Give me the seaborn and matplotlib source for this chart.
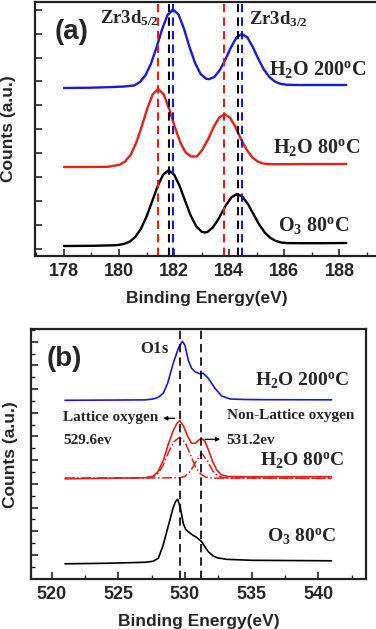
import numpy as np
import pandas as pd
import matplotlib
matplotlib.use("Agg")
import matplotlib.pyplot as plt
from matplotlib.ticker import MultipleLocator, FixedLocator
import seaborn as sns

# ---------------- panel (a): Zr3d ----------------
zr_blue_e = [178.0, 179.0, 179.8, 180.2, 180.56, 180.76, 180.96, 181.16, 181.36, 181.56, 181.76, 181.96,
             182.16, 182.36, 182.56, 182.76, 182.96, 183.16, 183.26, 183.46, 183.66, 183.86, 184.06, 184.26,
             184.46, 184.66, 184.86, 185.06, 185.26, 185.46, 185.66, 185.86, 186.06, 186.5, 187.2, 188.25]
zr_blue_i = [168, 168.3, 169, 169.5, 170.6, 174, 180.7, 192.4, 208.6, 226.5, 241, 246.5,
             241.5, 227, 208.8, 193, 182, 177.3, 176.8, 179, 186, 196.5, 208.5, 218.5,
             222, 218.5, 208.7, 196.9, 186.4, 178.9, 174.4, 172.2, 171.3, 171, 171, 171]

zr_red_e = [178.0, 179.0, 179.6, 180.02, 180.22, 180.42, 180.62, 180.82, 181.02, 181.22, 181.42, 181.62,
            181.82, 182.02, 182.22, 182.42, 182.62, 182.82, 183.02, 183.23, 183.43, 183.63, 183.83, 184.03,
            184.23, 184.43, 184.63, 184.83, 185.03, 185.23, 185.43, 186.0, 187.0, 188.25]
zr_red_i = [89, 89, 89.2, 91.2, 94.5, 101.2, 113, 129.1, 147, 161.5, 167, 161.7,
            147.3, 129.4, 113.7, 103.5, 99.5, 99.5, 106, 116.5, 128.7, 138.3, 142, 138.3,
            128.7, 116.7, 106.5, 98.8, 94.5, 92.5, 91.8, 91.8, 92, 92]

zr_black_e = [178.0, 179.0, 179.8, 180.0, 180.2, 180.4, 180.6, 180.8, 181.0, 181.2, 181.4, 181.6,
              181.8, 182.0, 182.2, 182.4, 182.6, 182.8, 183.0, 183.1, 183.2, 183.4, 183.6, 183.89,
              184.09, 184.29, 184.49, 184.69, 184.89, 185.09, 185.29, 185.49, 185.69, 185.89, 186.1,
              186.6, 187.4, 188.25]
zr_black_i = [10, 10.2, 10.7, 11.1, 12.2, 14.6, 19.4, 27.5, 39.5, 54.5, 69.7, 81.3,
              85.7, 81.4, 70, 55, 40.5, 29.8, 24.2, 23.6, 23.9, 28.4, 36.6, 51.2,
              59, 62, 59, 51.4, 41.3, 31.3, 23.5, 18.2, 15, 13.5, 12.9,
              12.8, 12.8, 13]

zr_red_lines = [181.42, 183.81]
zr_black_lines = [181.82, 184.31]
zr_blue_lines = [181.96, 184.46]

# ---------------- panel (b): O1s ----------------
o_blue_e = [521.0, 524.0, 527.0, 527.6, 528.0, 528.37, 528.7, 529.12, 529.5, 529.8, 530.0, 530.25,
            530.5, 530.75, 531.12, 531.37, 531.75, 532.25, 532.75, 533.4, 534.5, 536.0, 541.0]
o_blue_i = [179.0, 179.2, 179.4, 180.3, 182, 186, 196, 216, 231, 238, 234, 219,
            211, 207.6, 205.5, 206, 201, 191, 183.3, 180.3, 179.8, 179.6, 179.5]

o_red_e = [521.0, 524.0, 527.0, 527.6, 528.0, 528.4, 528.75, 529.1, 529.4, 529.62, 529.9, 530.2,
           530.5, 530.8, 531.05, 531.25, 531.5, 531.8, 532.1, 532.4, 532.75, 533.2, 534.5, 541.0]
o_red_i = [100.5, 101, 101.5, 103, 108, 120, 135, 148, 156, 158.7, 153, 143,
           136, 136, 139.5, 141, 138, 128, 117, 109, 104.5, 102.8, 102.6, 102.6]

o_lat_e = [521.0, 527.0, 527.6, 528.0, 528.4, 528.8, 529.2, 529.6, 530.0, 530.4, 530.8, 531.2,
           531.6, 532.2, 541.0]
o_lat_i = [101, 101.3, 102.5, 106, 115, 128, 138, 142, 137, 125, 112, 105,
           102, 101.2, 101]

o_nonlat_e = [521.0, 529.6, 530.0, 530.4, 530.8, 531.25, 531.7, 532.1, 532.5, 533.0, 541.0]
o_nonlat_i = [101, 101.5, 103, 108, 117, 126, 118, 108, 103, 101.5, 101]

o_black_e = [521.0, 524.0, 527.0, 527.6, 528.0, 528.37, 528.6, 528.87, 529.1, 529.3, 529.45, 529.65,
             529.87, 530.05, 530.25, 530.6, 530.87, 531.25, 531.5, 531.75, 532.1, 532.4, 533.1,
             535.0, 541.0]
o_black_i = [15.5, 16, 17, 18, 21, 34.3, 46, 59.3, 71, 78, 80, 72,
             56, 50, 47.6, 44, 42, 37.6, 32.5, 27.6, 23.5, 21.6, 20,
             19, 18.5]

o_lines = [529.65, 531.2]

BLUE = "#1a1ad6"
RED = "#e3201c"

sns.set_theme(style="ticks")
plt.rcParams['font.family'] = ['Liberation Sans', 'DejaVu Sans']
plt.rcParams['font.weight'] = 'bold'
plt.rcParams['mathtext.fontset'] = 'custom'
plt.rcParams['mathtext.rm'] = 'Liberation Serif'
plt.rcParams['mathtext.bf'] = 'Liberation Serif:bold'
plt.rcParams['mathtext.it'] = 'Liberation Serif:italic:bold'

fig = plt.figure(figsize=(3.76, 6.29), dpi=100)
ax1 = fig.add_axes([35 / 376, 1 - 256 / 629, 343 / 376, 254 / 629])
ax2 = fig.add_axes([31 / 376, 1 - 579.3 / 629, 334.7 / 376, 250 / 629])

# panel (a)
for e, i, c in [(zr_blue_e, zr_blue_i, BLUE), (zr_red_e, zr_red_i, RED), (zr_black_e, zr_black_i, "black")]:
    sns.lineplot(x=e, y=i, ax=ax1, color=c, lw=1.7)
for xs, c in [(zr_red_lines, RED), (zr_black_lines, "black"), (zr_blue_lines, BLUE)]:
    for xv in xs:
        ax1.axvline(xv, color=c, lw=1.5, ls=(0, (4, 2.5)))

ax1.set_xlim(176.95, 189.4)
ax1.set_ylim(0, 254)
ax1.xaxis.set_major_locator(MultipleLocator(2))
ax1.xaxis.set_minor_locator(MultipleLocator(1))
ax1.yaxis.set_major_locator(FixedLocator(7.3 + 23.9 * np.arange(11)))

ax1.text(177.65, 224, "(a)", fontsize=20, fontweight='bold', va='center', ha='left')
ax1.text(179.3, 233, r"$\mathbf{Zr3d_{5/2}}$", fontsize=13.5, ha='left', va='baseline')
ax1.text(184.71, 232, r"$\mathbf{Zr3d_{3/2}}$", fontsize=13.5, ha='left', va='baseline')
ax1.text(185.46, 181, r"$\mathbf{H_2O\ 200^oC}$", fontsize=14.5, ha='left', va='baseline')
ax1.text(185.58, 103, r"$\mathbf{H_2O\ 80^oC}$", fontsize=14.5, ha='left', va='baseline')
ax1.text(185.76, 25, r"$\mathbf{O_3\ 80^oC}$", fontsize=14.5, ha='left', va='baseline')

# panel (b)
for e, i, c in [(o_blue_e, o_blue_i, BLUE), (o_red_e, o_red_i, RED), (o_black_e, o_black_i, "black")]:
    sns.lineplot(x=e, y=i, ax=ax2, color=c, lw=1.2)
for e, i in [(o_lat_e, o_lat_i), (o_nonlat_e, o_nonlat_i)]:
    sns.lineplot(x=e, y=i, ax=ax2, color=RED, lw=1.1, linestyle='-.')
for xv in o_lines:
    ax2.axvline(xv, color="black", lw=1.2, ls=(0, (5, 3)))

ax2.set_xlim(518.45, 543.56)
ax2.set_ylim(0, 250)
ax2.xaxis.set_major_locator(MultipleLocator(5))
ax2.xaxis.set_minor_locator(MultipleLocator(2.5))
ax2.yaxis.set_major_locator(FixedLocator(24.3 + 23.7 * np.arange(10)))
ax2.yaxis.set_minor_locator(FixedLocator(12.45 + 23.7 * np.arange(11)))

ax2.text(519.6, 220, "(b)", fontsize=20, fontweight='bold', va='center', ha='left')
ax2.text(526.6, 226, r"$\mathbf{O1s}$", fontsize=12, ha='left', va='baseline')
ax2.text(535.25, 193, r"$\mathbf{H_2O\ 200^oC}$", fontsize=14, ha='left', va='baseline')
ax2.text(535.63, 113, r"$\mathbf{H_2O\ 80^oC}$", fontsize=14, ha='left', va='baseline')
ax2.text(536.13, 37, r"$\mathbf{O_3\ 80^oC}$", fontsize=14, ha='left', va='baseline')
serif = dict(family='Liberation Serif', fontsize=11, fontweight='bold', ha='left', va='baseline')
ax2.text(520.85, 158, "Lattice oxygen", **serif)
ax2.text(520.87, 135, "529.6ev", **serif)
ax2.text(533.13, 160, "Non-Lattice oxygen", **serif)
ax2.text(533.08, 135, "531.2ev", **serif)
ax2.annotate("", xy=(528.15, 161), xytext=(529.45, 161),
             arrowprops=dict(arrowstyle='-|>', color='black', lw=0.9, mutation_scale=6))
ax2.annotate("", xy=(532.85, 140), xytext=(531.3, 140),
             arrowprops=dict(arrowstyle='-|>', color='black', lw=0.9, mutation_scale=6))

# label x is the right edge of the rotated ylabel
for ax, lx in ((ax1, -0.055), (ax2, -0.039)):
    ax.set_xlabel("Binding Energy(eV)", fontsize=12.5, fontweight='bold', labelpad=8)
    ax.set_ylabel("Counts (a.u.)", fontsize=12.5, fontweight='bold')
    ax.yaxis.set_label_coords(lx, 0.5)
    ax.tick_params(axis='both', which='both', direction='in', top=False, right=False)
    ax.tick_params(axis='x', which='major', length=5, width=1.2, labelsize=13, pad=5)
    ax.tick_params(axis='x', which='minor', length=3, width=1.0)
    ax.tick_params(axis='y', which='major', length=5, width=1.2, labelleft=False)
    ax.tick_params(axis='y', which='minor', length=3, width=1.0)
    for s in ax.spines.values():
        s.set_linewidth(1.6)
        s.set_color('#222222')

fig.savefig("out.png", dpi=100)
